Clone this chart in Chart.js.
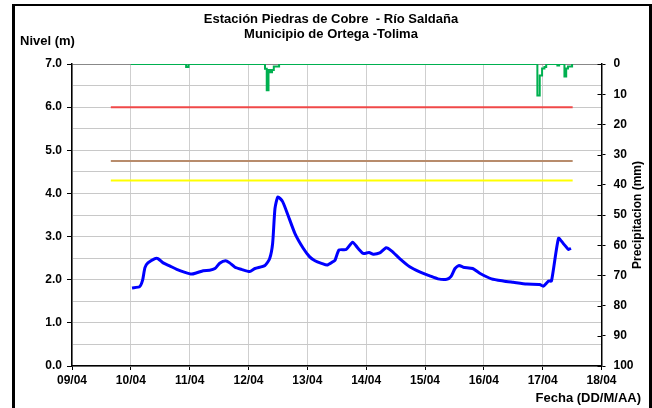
<!DOCTYPE html>
<html>
<head>
<meta charset="utf-8">
<script src="https://cdn.jsdelivr.net/npm/chart.js@4.4.0/dist/chart.umd.min.js"></script>
<style>
    body { margin: 0; background: #fff; }
</style>
</head>
<body>
<canvas id="nivelChart" width="652" height="408"></canvas>
<script>
// Nivel del río (día de abril, decimal) y valor en metros
const nivelDia = [10.02, 10.15, 10.20, 10.24, 10.29, 10.41, 10.46, 10.55, 10.66, 10.78, 10.92,
    11.03, 11.12, 11.23, 11.34, 11.43, 11.51, 11.61, 11.68, 11.77, 11.88,
    12.02, 12.11, 12.28, 12.36, 12.41, 12.45, 12.50, 12.58, 12.67, 12.79, 12.93,
    13.04, 13.13, 13.24, 13.34, 13.44, 13.47, 13.54, 13.66, 13.77, 13.86, 13.95,
    14.05, 14.12, 14.23, 14.34, 14.43, 14.57, 14.74, 14.91,
    15.08, 15.22, 15.37, 15.44, 15.51, 15.58, 15.65, 15.81, 15.93,
    16.13, 16.33, 16.50, 16.73, 16.95,
    17.01, 17.10, 17.15, 17.27, 17.35, 17.44, 17.48];
const nivelM = [1.81, 1.84, 1.99, 2.28, 2.39, 2.49, 2.49, 2.39, 2.32, 2.24, 2.17,
    2.13, 2.16, 2.21, 2.22, 2.26, 2.38, 2.44, 2.39, 2.29, 2.24,
    2.19, 2.26, 2.33, 2.49, 2.84, 3.65, 3.92, 3.81, 3.50, 3.07, 2.73,
    2.53, 2.44, 2.38, 2.34, 2.42, 2.45, 2.69, 2.70, 2.87, 2.73, 2.61,
    2.63, 2.59, 2.62, 2.74, 2.67, 2.49, 2.30, 2.18,
    2.09, 2.02, 2.01, 2.07, 2.26, 2.33, 2.29, 2.26, 2.15,
    2.02, 1.97, 1.94, 1.90, 1.89,
    1.85, 1.97, 1.97, 2.96, 2.84, 2.70, 2.73];

// Precipitación (mm), escalonada
const precipDia = [10.00, 10.94, 10.98, 12.28, 12.31, 12.34, 12.37, 12.40, 12.43, 12.52,
    16.91, 16.95, 16.99, 17.03, 17.06, 17.25, 17.28, 17.37, 17.40, 17.43, 17.50];
const precipMm = [0, 1.0, 0, 1.6, 8.7, 2.0, 2.7, 2.0, 0.8, 0,
    10.4, 3.8, 1.5, 1.0, 0, 0.5, 0, 4.1, 1.5, 0.8, 0];

// Niveles de alerta
const umbralNivel = [6.0, 4.75, 4.3];
const umbralColor = ['#f04848', '#b88c6c', '#ffff00'];
const umbralDias = [9.66, 17.51];

const fuente = 'Arial, "Liberation Sans", sans-serif';

function pares(xs, ys) {
    return xs.map((x, i) => ({ x: x, y: ys[i] }));
}

const datasets = [{
    label: 'Nivel',
    data: pares(nivelDia, nivelM),
    borderColor: '#0000ff',
    borderWidth: 3,
    pointRadius: 0,
    tension: 0.2,
    yAxisID: 'y'
}, {
    label: 'Precipitación',
    data: pares(precipDia, precipMm),
    borderColor: '#00b050',
    borderWidth: 2,
    pointRadius: 0,
    stepped: 'before',
    yAxisID: 'y1'
}];

umbralNivel.forEach((v, i) => {
    datasets.push({
        label: 'Umbral ' + v,
        data: umbralDias.map(d => ({ x: d, y: v })),
        borderColor: umbralColor[i],
        borderWidth: 2,
        pointRadius: 0,
        yAxisID: 'y'
    });
});

const textos = {
    id: 'textos',
    afterDraw(chart) {
        const ctx = chart.ctx;
        ctx.save();

        // marco
        ctx.fillStyle = '#000';
        ctx.fillRect(12, 4, 3, 404);
        ctx.fillRect(12, 4, 640, 2);
        ctx.fillRect(649, 4, 3, 404);

        ctx.fillStyle = '#000';
        ctx.textBaseline = 'middle';
        ctx.font = 'bold 13px ' + fuente;
        ctx.textAlign = 'center';
        ctx.fillText('Estación Piedras de Cobre  - Río Saldaña', 331, 19);
        ctx.fillText('Municipio de Ortega -Tolima', 331, 34);

        ctx.textAlign = 'left';
        ctx.fillText('Nivel (m)', 20, 41);
        ctx.textAlign = 'right';
        ctx.fillText('Fecha (DD/M/AA)', 641, 398);

        ctx.save();
        ctx.translate(638, 215);
        ctx.rotate(-Math.PI / 2);
        ctx.textAlign = 'center';
        ctx.font = 'bold 12px ' + fuente;
        ctx.fillText('Precipitacion (mm)', 0, 0);
        ctx.restore();

        // marcas interiores del eje derecho
        const y1 = chart.scales.y1;
        const right = chart.chartArea.right;
        ctx.strokeStyle = '#000';
        ctx.lineWidth = 1;
        y1.ticks.forEach(t => {
            const py = Math.round(y1.getPixelForValue(t.value)) + 0.5;
            ctx.beginPath();
            ctx.moveTo(right - 4, py);
            ctx.lineTo(right, py);
            ctx.stroke();
        });
        ctx.restore();
    }
};

const tickFont = { family: fuente, size: 12, weight: 'bold' };

new Chart(document.getElementById('nivelChart'), {
    type: 'line',
    data: { datasets: datasets },
    options: {
        responsive: false,
        animation: false,
        layout: { padding: { top: 64, left: 0, right: 0, bottom: 0 } },
        plugins: {
            legend: { display: false },
            tooltip: { enabled: false }
        },
        scales: {
            x: {
                type: 'linear',
                min: 9,
                max: 18,
                afterFit: s => { s.height = 42; },
                ticks: {
                    stepSize: 1,
                    autoSkip: false,
                    maxRotation: 0,
                    padding: 3,
                    color: '#000',
                    font: tickFont,
                    callback: v => String(Math.round(v)).padStart(2, '0') + '/04'
                },
                grid: { color: '#cfcfcf', tickColor: '#000', tickLength: 4 },
                border: { color: '#000', width: 1.5 }
            },
            y: {
                position: 'left',
                min: 0,
                max: 7,
                afterFit: s => { s.width = 72; },
                ticks: {
                    stepSize: 0.5,
                    padding: 5,
                    color: '#000',
                    font: tickFont,
                    callback: v => Number.isInteger(v) ? v.toFixed(1) : ''
                },
                grid: {
                    color: c => c.tick && c.tick.value === 7 ? '#888' : '#c8c8c8',
                    tickColor: c => c.tick && Number.isInteger(c.tick.value) ? '#000' : 'rgba(0,0,0,0)',
                    tickLength: 5
                },
                border: { color: '#000', width: 1.5 }
            },
            y1: {
                position: 'right',
                reverse: true,
                min: 0,
                max: 100,
                afterFit: s => { s.width = 50.5; },
                ticks: {
                    stepSize: 10,
                    padding: 8,
                    color: '#000',
                    font: tickFont
                },
                grid: { drawOnChartArea: false, tickColor: '#000', tickLength: 4 },
                border: { color: '#000', width: 1.5 }
            }
        }
    },
    plugins: [textos]
});
</script>
</body>
</html>
